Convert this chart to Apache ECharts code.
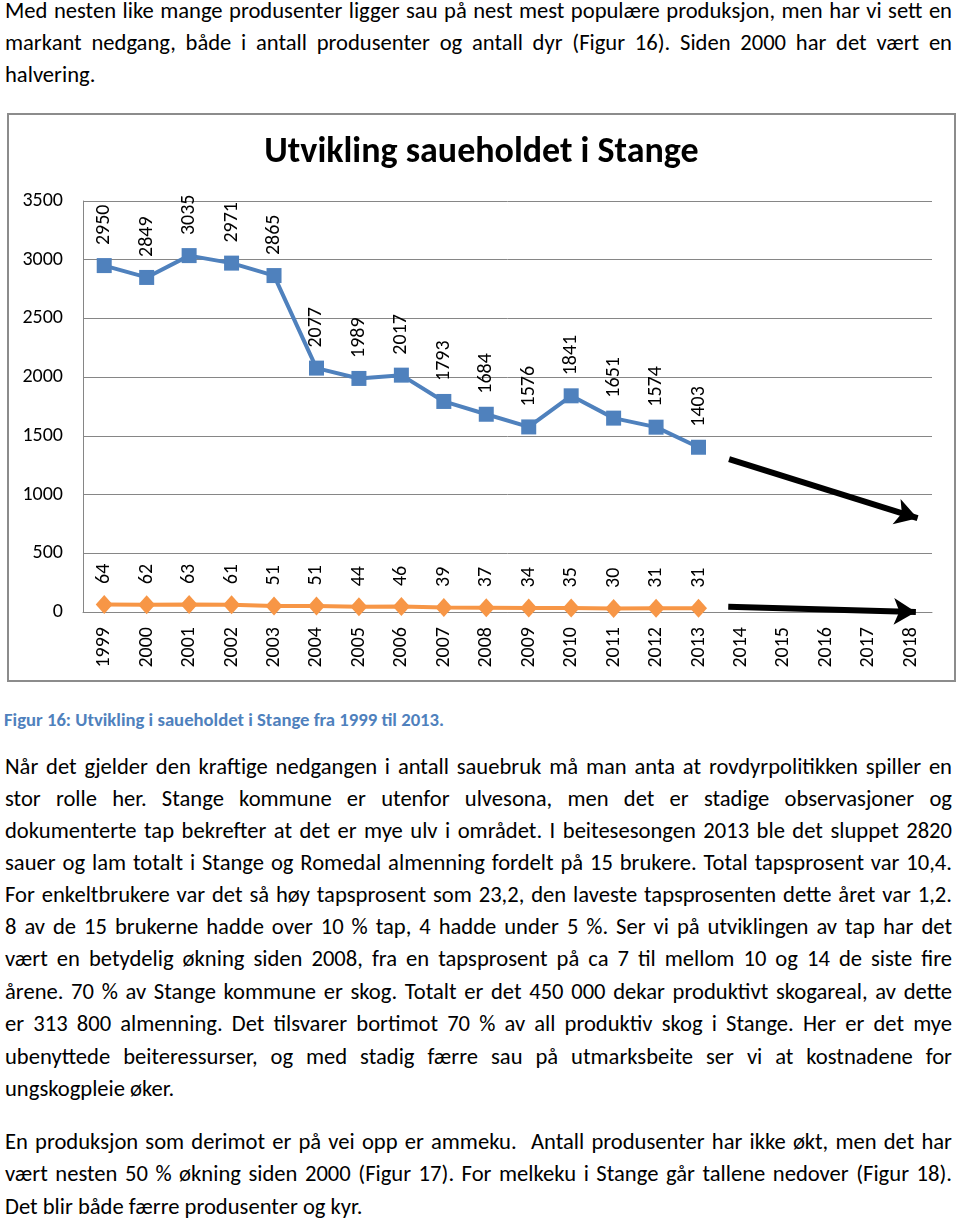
<!DOCTYPE html>
<html>
<head>
<meta charset="utf-8">
<script src="https://cdn.jsdelivr.net/npm/echarts@6/dist/echarts.min.js"></script>
<style>
  html, body { margin: 0; padding: 0; background: #fff; }
  body { width: 960px; height: 1220px; position: relative; overflow: hidden;
         font-family: Carlito, "Liberation Sans Narrow", "Open Sans", "Noto Sans", sans-serif; color: #000; }
  .ln { position: absolute; left: 5px; width: 947px; height: 32px; line-height: 32px; font-size: 22.6px; white-space: nowrap; }
  .j { text-align: justify; text-align-last: justify; white-space: normal; }
  .cap { position: absolute; left: 4px; top: 708px; font-size: 18.7px; font-weight: bold; color: #4F81BD; line-height: 24px; white-space: nowrap; }
  #chart { position: absolute; left: 7px; top: 113px; width: 949px; height: 569px; box-sizing: border-box; border: 2px solid #8c8c8c; }
</style>
</head>
<body>
<div class="ln j" style="top:-6px">Med nesten like mange produsenter ligger sau på nest mest populære produksjon, men har vi sett en</div>
<div class="ln j" style="top:26px">markant nedgang, både i antall produsenter og antall dyr (Figur 16). Siden 2000 har det vært en</div>
<div class="ln" style="top:58px">halvering.</div>

<div id="chart"></div>

<div class="cap">Figur 16: Utvikling i saueholdet i Stange fra 1999 til 2013.</div>

<div class="ln j" style="top:750px">Når det gjelder den kraftige nedgangen i antall sauebruk må man anta at rovdyrpolitikken spiller en</div>
<div class="ln j" style="top:782px">stor rolle her. Stange kommune er utenfor ulvesona, men det er stadige observasjoner og</div>
<div class="ln j" style="top:814px">dokumenterte tap bekrefter at det er mye ulv i området. I beitesesongen 2013 ble det sluppet 2820</div>
<div class="ln j" style="top:846px">sauer og lam totalt i Stange og Romedal almenning fordelt på 15 brukere. Total tapsprosent var 10,4.</div>
<div class="ln j" style="top:878px">For enkeltbrukere var det så høy tapsprosent som 23,2, den laveste tapsprosenten dette året var 1,2.</div>
<div class="ln j" style="top:910px">8 av de 15 brukerne hadde over 10 % tap, 4 hadde under 5 %. Ser vi på utviklingen av tap har det</div>
<div class="ln j" style="top:942px">vært en betydelig økning siden 2008, fra en tapsprosent på ca 7 til mellom 10 og 14 de siste fire</div>
<div class="ln j" style="top:975px">årene. 70 % av Stange kommune er skog. Totalt er det 450 000 dekar produktivt skogareal, av dette</div>
<div class="ln j" style="top:1007px">er 313 800 almenning. Det tilsvarer bortimot 70 % av all produktiv skog i Stange. Her er det mye</div>
<div class="ln j" style="top:1040px">ubenyttede beiteressurser, og med stadig færre sau på utmarksbeite ser vi at kostnadene for</div>
<div class="ln" style="top:1072px">ungskogpleie øker.</div>

<div class="ln j" style="top:1125px">En produksjon som derimot er på vei opp er ammeku.&nbsp; Antall produsenter har ikke økt, men det har</div>
<div class="ln j" style="top:1157px">vært nesten 50 % økning siden 2000 (Figur 17). For melkeku i Stange går tallene nedover (Figur 18).</div>
<div class="ln" style="top:1190px">Det blir både færre produsenter og kyr.</div>

<script>
const years = ['1999','2000','2001','2002','2003','2004','2005','2006','2007','2008','2009','2010','2011','2012','2013','2014','2015','2016','2017','2018'];
const sheep = [2950, 2849, 3035, 2971, 2865, 2077, 1989, 2017, 1793, 1684, 1576, 1841, 1651, 1574, 1403, null, null, null, null, null];
const producers = [64, 62, 63, 61, 51, 51, 44, 46, 39, 37, 34, 35, 30, 31, 31, null, null, null, null, null];
const yTicks = { min: 0, max: 3500, interval: 500 };
const title = 'Utvikling saueholdet i Stange';
// hand-drawn trend arrows (position along the 20-year band, value)
const arrowSheep = [[15.22, 1301], [19.66, 799]];
const arrowProducers = [[15.2, 45], [19.62, 0]];

const FONT = 'Carlito, "Liberation Sans Narrow", "Open Sans", "Noto Sans", sans-serif';
const chart = echarts.init(document.getElementById('chart'), null, { renderer: 'canvas' });

function arrowLine(pts) {
  return [{ coord: pts[0], symbol: 'none' }, { coord: pts[1], symbol: 'arrow' }];
}

chart.setOption({
  animation: false,
  textStyle: { fontFamily: FONT },
  title: {
    text: title, left: 'center', top: 15,
    textStyle: { fontFamily: FONT, fontSize: 36, fontWeight: 'bold', color: '#000' }
  },
  grid: { left: 74, right: 22, top: 86, height: 411, containLabel: false },
  xAxis: [
    {
      type: 'category', data: years, boundaryGap: true,
      axisLine: { show: true, lineStyle: { color: '#868686', width: 1 } },
      axisTick: { show: false },
      axisLabel: { rotate: 90, margin: 15, fontSize: 20, color: '#000', fontFamily: FONT, interval: 0 },
      splitLine: { show: false }
    },
    { type: 'value', min: 0, max: 20, show: false }
  ],
  yAxis: {
    type: 'value', min: yTicks.min, max: yTicks.max, interval: yTicks.interval,
    axisLine: { show: true, lineStyle: { color: '#868686', width: 1 } },
    axisTick: { show: false },
    axisLabel: { margin: 20, fontSize: 20, color: '#000', fontFamily: FONT, formatter: v => String(v) },
    splitLine: { show: true, lineStyle: { color: '#868686', width: 1 } }
  },
  series: [
    {
      type: 'line', data: sheep, xAxisIndex: 0,
      symbol: 'rect', symbolSize: 15,
      lineStyle: { color: '#4F81BD', width: 4 },
      itemStyle: { color: '#4F81BD' },
      label: { show: true, position: 'top', rotate: 90, align: 'left', verticalAlign: 'middle', distance: 13,
               fontSize: 20, color: '#000', fontFamily: FONT }
    },
    {
      type: 'line', data: producers, xAxisIndex: 0,
      symbol: 'diamond', symbolSize: [17, 19],
      lineStyle: { color: '#F79646', width: 4 },
      itemStyle: { color: '#F79646' },
      label: { show: true, position: 'top', rotate: 90, align: 'left', verticalAlign: 'middle', distance: 11,
               fontSize: 20, color: '#000', fontFamily: FONT }
    },
    {
      type: 'line', xAxisIndex: 1, data: [], silent: true,
      markLine: {
        silent: true, animation: false,
        symbolSize: [20, 22],
        label: { show: false },
        emphasis: { disabled: true },
        lineStyle: { color: '#000', width: 6, type: 'solid' },
        data: [arrowLine(arrowSheep), arrowLine(arrowProducers)]
      }
    }
  ]
});
</script>
</body>
</html>
